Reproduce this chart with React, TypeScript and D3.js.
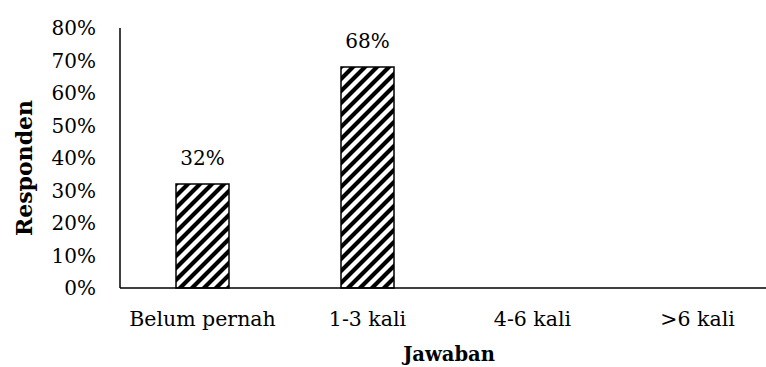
import React from "react";
import * as d3 from "d3";

const categories = ["Belum pernah", "1-3 kali", "4-6 kali", ">6 kali"];
const values = [32, 68, null, null];
const yTicks = [0, 10, 20, 30, 40, 50, 60, 70, 80];

const W = 766;
const H = 367;
const left = 120;
const top = 28;
const bottom = 288;
const font = "'DejaVu Serif', serif";

export default function App() {
  const x = d3.scaleBand<string>().domain(categories).range([left, 780]).paddingInner(0.32).paddingOuter(0.16);
  const y = d3.scaleLinear().domain([0, 80]).range([bottom, top]);
  const barW = 53;
  return (
    <svg width={W} height={H} style={{ position: "absolute", left: 0, top: 0, background: "#fff" }}>
      <defs>
        <pattern id="hatch" patternUnits="userSpaceOnUse" width={12} height={12}>
          <rect width={12} height={12} fill="#fff" />
          <path d="M-3,3 L3,-3 M0,12 L12,0 M9,15 L15,9" stroke="#000" strokeWidth={4.2} />
        </pattern>
      </defs>
      {yTicks.map((t) => (
        <text key={t} x={96} y={y(t)} dy="0.36em" textAnchor="end" fontFamily={font} fontSize={20} fill="#000">
          {t}%
        </text>
      ))}
      {categories.map((c, i) => {
        const v = values[i];
        const cx = (x(c) as number) + x.bandwidth() / 2;
        return (
          <g key={c}>
            {v != null && (
              <>
                <rect x={cx - barW / 2} y={y(v)} width={barW} height={bottom - y(v)} fill="url(#hatch)" stroke="#000" strokeWidth={1.5} />
                <text x={cx} y={y(v) - 19} textAnchor="middle" fontFamily={font} fontSize={20} fill="#000">
                  {v}%
                </text>
              </>
            )}
            <text x={cx} y={326} textAnchor="middle" fontFamily={font} fontSize={20.5} fill="#000">
              {c}
            </text>
          </g>
        );
      })}
      <line x1={left} x2={left} y1={top} y2={bottom} stroke="#000" strokeWidth={1.5} />
      <line x1={left} x2={W} y1={bottom} y2={bottom} stroke="#000" strokeWidth={1.5} />
      <text x={449} y={361} textAnchor="middle" fontFamily={font} fontSize={19.5} fontWeight="bold" fill="#000">
        Jawaban
      </text>
      <text transform={`translate(32,168) rotate(-90)`} textAnchor="middle" fontFamily={font} fontSize={22} fontWeight="bold" fill="#000">
        Responden
      </text>
    </svg>
  );
}
